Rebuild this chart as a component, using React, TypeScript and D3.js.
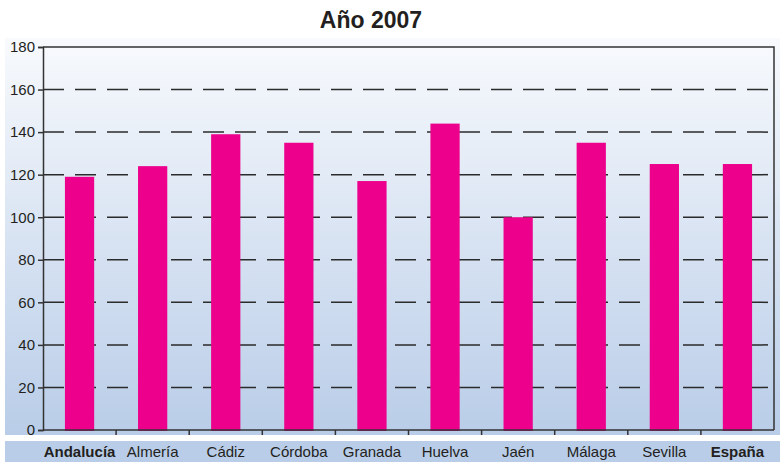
import { useEffect, useRef } from 'react';
import * as d3 from 'd3';

const categories = ['Andalucía', 'Almería', 'Cádiz', 'Córdoba', 'Granada', 'Huelva', 'Jaén', 'Málaga', 'Sevilla', 'España'];
const values = [119, 124, 139, 135, 117, 144, 100, 135, 125, 125];
const boldLabels = ['Andalucía', 'España'];
const yTicks = [0, 20, 40, 60, 80, 100, 120, 140, 160, 180];

const App = () => {
  const svgRef = useRef<SVGSVGElement>(null);

  useEffect(() => {
    if (!svgRef.current) return;
    const svg = d3.select(svgRef.current);
    svg.selectAll('*').remove();

    const width = 780;
    const height = 462;
    const margin = { top: 47, right: 6, bottom: 32, left: 43 };
    const font = 'Liberation Sans, Arial, sans-serif';

    const x = d3.scaleBand()
      .domain(categories)
      .range([margin.left, width - margin.right])
      .paddingInner(0.6)
      .paddingOuter(0.3);

    const y = d3.scaleLinear()
      .domain([0, 180])
      .range([height - margin.bottom, margin.top]);

    // background gradient
    const defs = svg.append('defs');
    const grad = defs.append('linearGradient')
      .attr('id', 'bg')
      .attr('x1', 0).attr('y1', 0).attr('x2', 0).attr('y2', 1);
    grad.append('stop').attr('offset', '0%').attr('stop-color', '#f8fafd');
    grad.append('stop').attr('offset', '100%').attr('stop-color', '#b9cde8');

    svg.append('rect')
      .attr('width', width).attr('height', height)
      .attr('fill', '#ffffff');

    svg.append('rect')
      .attr('x', 5).attr('y', 38)
      .attr('width', width - 5).attr('height', 435 - 38)
      .attr('fill', 'url(#bg)');

    // label band
    svg.append('rect')
      .attr('x', 5).attr('y', 441)
      .attr('width', width - 5).attr('height', height - 441)
      .attr('fill', '#b9cde8');

    // title
    svg.append('text')
      .attr('x', 371).attr('y', 28)
      .attr('text-anchor', 'middle')
      .attr('font-family', 'Liberation Sans Narrow, Arial Narrow, Liberation Sans, sans-serif')
      .attr('font-weight', 'bold')
      .attr('font-size', 23)
      .attr('fill', '#231f20')
      .text('Año 2007');

    // gridlines
    svg.append('g')
      .selectAll('line')
      .data(yTicks.filter(t => t > 0 && t < 180))
      .enter()
      .append('line')
      .attr('x1', margin.left)
      .attr('x2', width - margin.right)
      .attr('y1', d => y(d))
      .attr('y2', d => y(d))
      .attr('stroke', '#2b2b2b')
      .attr('stroke-width', 1.5)
      .attr('stroke-dasharray', '21 11');

    // bars
    svg.append('g')
      .selectAll('rect')
      .data(values)
      .enter()
      .append('rect')
      .attr('x', (d, i) => x(categories[i]) as number)
      .attr('y', d => y(d))
      .attr('width', x.bandwidth())
      .attr('height', d => y(0) - y(d) + 1)
      .attr('fill', '#ec008c');

    // frame: top and right
    svg.append('path')
      .attr('d', `M${margin.left},${margin.top}H${width - margin.right}V${y(0)}`)
      .attr('fill', 'none')
      .attr('stroke', '#333')
      .attr('stroke-width', 1.5);

    // y axis
    const yAxis = svg.append('g')
      .attr('transform', `translate(${margin.left},0)`)
      .call(d3.axisLeft(y).tickValues(yTicks).tickSize(5).tickPadding(3));
    yAxis.select('.domain').attr('stroke', '#333').attr('stroke-width', 1.5);
    yAxis.selectAll('.tick line').attr('stroke', '#333').attr('stroke-width', 1.5);
    yAxis.selectAll('.tick text')
      .attr('font-family', font)
      .attr('font-size', 15)
      .attr('fill', '#231f20');

    // x axis
    const step = x.step();
    const bounds = categories.slice(1).map((c, i) => (x(c) as number) - (step - x.bandwidth()) / 2);
    svg.append('line')
      .attr('x1', margin.left).attr('x2', width - margin.right)
      .attr('y1', y(0)).attr('y2', y(0))
      .attr('stroke', '#333').attr('stroke-width', 1.5);
    svg.append('g')
      .selectAll('line')
      .data(bounds)
      .enter()
      .append('line')
      .attr('x1', d => d).attr('x2', d => d)
      .attr('y1', y(0)).attr('y2', y(0) + 5)
      .attr('stroke', '#333').attr('stroke-width', 1.5);

    svg.append('g')
      .selectAll('text')
      .data(categories)
      .enter()
      .append('text')
      .attr('x', d => (x(d) as number) + x.bandwidth() / 2)
      .attr('y', 457)
      .attr('text-anchor', 'middle')
      .attr('font-family', font)
      .attr('font-size', 15)
      .attr('font-weight', d => boldLabels.includes(d) ? 'bold' : 'normal')
      .attr('fill', '#231f20')
      .text(d => d);
  }, []);

  return (
    <div style={{ position: 'fixed', left: 0, top: 0 }}>
      <svg ref={svgRef} width={780} height={462} style={{ display: 'block' }} />
    </div>
  );
};

export default App;
